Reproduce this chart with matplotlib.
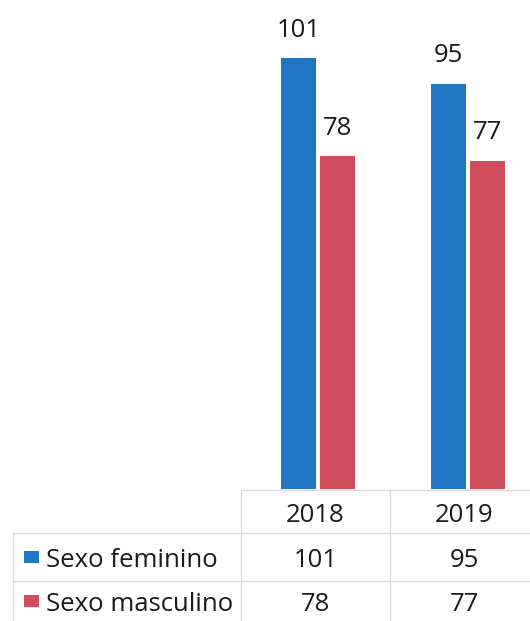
import matplotlib
matplotlib.use("Agg")
import matplotlib.pyplot as plt
import numpy as np

plt.rcParams['font.family'] = ['Open Sans', 'DejaVu Sans']

years = ["2018", "2019"]
series_names = ["Sexo feminino", "Sexo masculino"]
feminino = [101, 95]
masculino = [78, 77]
colors = ["#2277C4", "#CF4D5D"]

W, H = 530, 621
fig = plt.figure(figsize=(W / 100, H / 100), dpi=100)
fig.patch.set_facecolor("white")

# --- table overlay (pixel coordinates) ---
axt = fig.add_axes([0, 0, 1, 1])
axt.set_xlim(0, W)
axt.set_ylim(H, 0)
axt.axis("off")

grid_c = "#dadada"
lw = 1.0
col_edges = [241, 390, 539]
axt.plot([241, W], [490, 490], color=grid_c, lw=lw)
axt.plot([13, W], [533, 533], color=grid_c, lw=lw)
axt.plot([13, W], [581, 581], color=grid_c, lw=lw)
axt.plot([241, 241], [490, H], color=grid_c, lw=lw)
axt.plot([390, 390], [490, H], color=grid_c, lw=lw)
axt.plot([13, 13], [533, H], color=grid_c, lw=lw)

fs = 18.5
tc = "#1a1a1a"
centers = [(col_edges[i] + col_edges[i + 1]) / 2 for i in range(len(years))]
for cx, y in zip(centers, years):
    axt.text(cx, 522, y, ha="center", va="baseline", fontsize=fs, color=tc)

row_base = [567, 611]
for r, (name, vals, c) in enumerate(zip(series_names, [feminino, masculino], colors)):
    yb = row_base[r]
    axt.add_patch(plt.Rectangle((24, yb - 16), 15, 12, color=c, lw=0))
    axt.text(46, yb, name, ha="left", va="baseline", fontsize=fs, color=tc)
    for cx, v in zip(centers, vals):
        axt.text(cx, yb, str(v), ha="center", va="baseline", fontsize=fs, color=tc)

# --- bar chart ---
ax = fig.add_axes([243 / W, 132 / H, 300 / W, 489 / H])
ax.set_xlim(-0.5, 1.5)
ax.set_ylim(0, 114.7)
ax.axis("off")
x = np.arange(len(years))
bw = 0.227
off = 0.13
b1 = ax.bar(x - off, feminino, bw, color=colors[0])
b2 = ax.bar(x + off, masculino, bw, color=colors[1])
for bars, vals in [(b1, feminino), (b2, masculino)]:
    for b, v in zip(bars, vals):
        ax.annotate(str(v), (b.get_x() + b.get_width() / 2, v),
                    xytext=(0, 15.5), textcoords="offset points",
                    ha="center", va="baseline", fontsize=fs, color=tc,
                    annotation_clip=False)

fig.savefig("out.png", dpi=100, facecolor="white")
